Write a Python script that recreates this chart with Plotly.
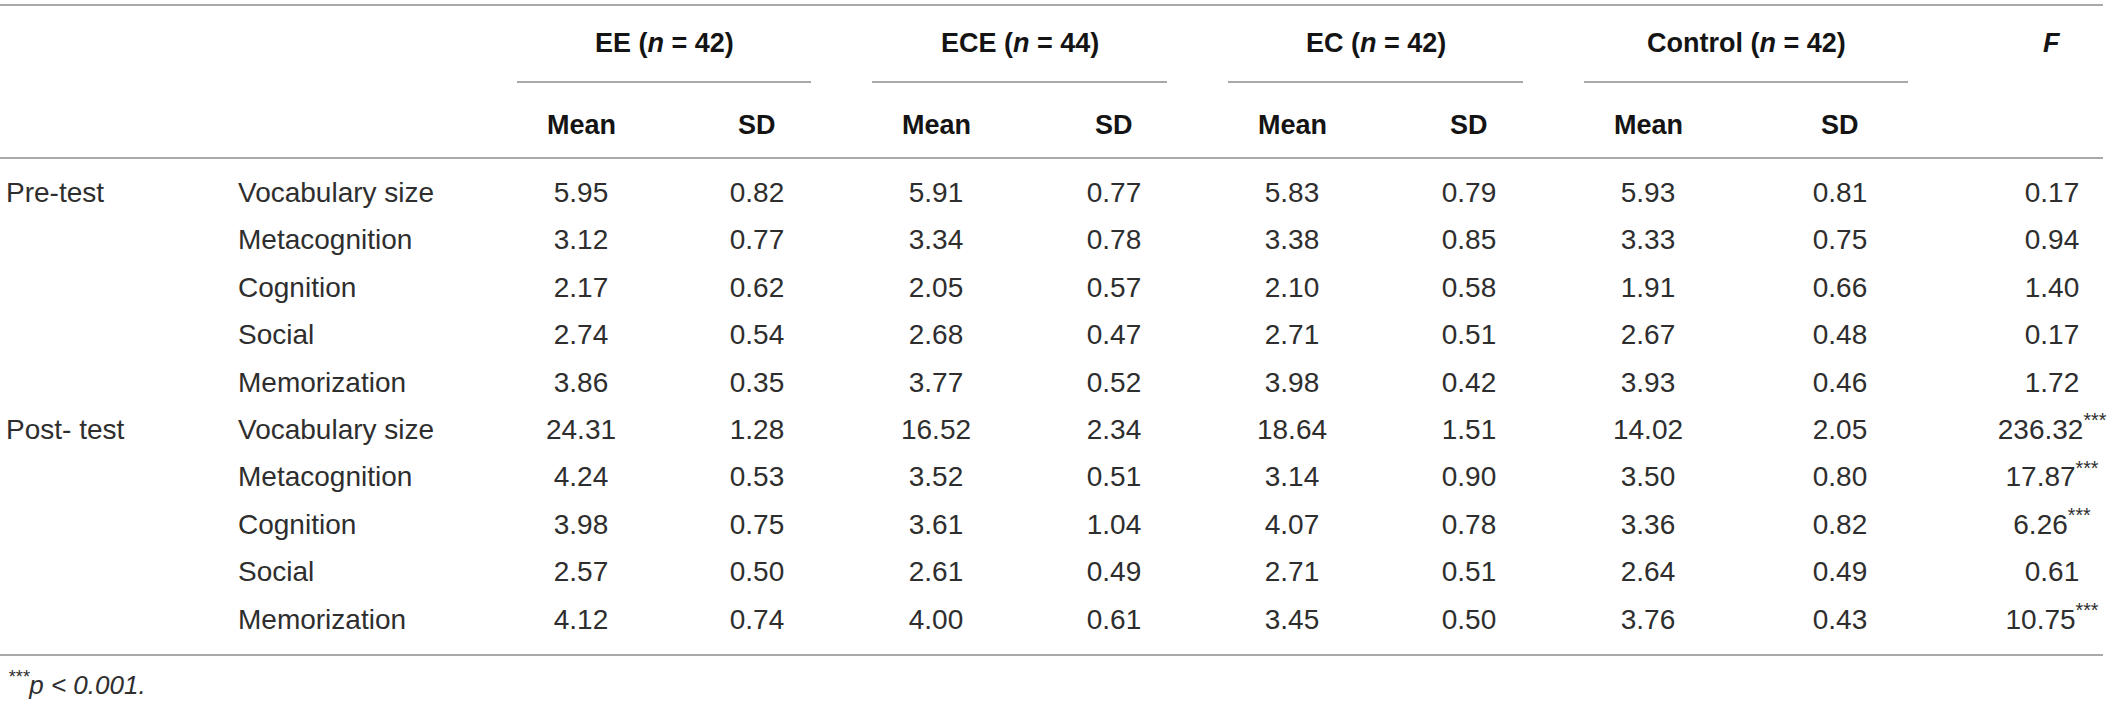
import plotly.graph_objects as go

# Table values
groups = ["EE", "ECE", "EC", "Control"]
group_n = [42, 44, 42, 42]
phases = ["Pre-test", "Post- test"]
measures = ["Vocabulary size", "Metacognition", "Cognition", "Social", "Memorization"]

ee_mean = [5.95, 3.12, 2.17, 2.74, 3.86, 24.31, 4.24, 3.98, 2.57, 4.12]
ee_sd = [0.82, 0.77, 0.62, 0.54, 0.35, 1.28, 0.53, 0.75, 0.50, 0.74]
ece_mean = [5.91, 3.34, 2.05, 2.68, 3.77, 16.52, 3.52, 3.61, 2.61, 4.00]
ece_sd = [0.77, 0.78, 0.57, 0.47, 0.52, 2.34, 0.51, 1.04, 0.49, 0.61]
ec_mean = [5.83, 3.38, 2.10, 2.71, 3.98, 18.64, 3.14, 4.07, 2.71, 3.45]
ec_sd = [0.79, 0.85, 0.58, 0.51, 0.42, 1.51, 0.90, 0.78, 0.51, 0.50]
ctrl_mean = [5.93, 3.33, 1.91, 2.67, 3.93, 14.02, 3.50, 3.36, 2.64, 3.76]
ctrl_sd = [0.81, 0.75, 0.66, 0.48, 0.46, 2.05, 0.80, 0.82, 0.49, 0.43]
f_value = [0.17, 0.94, 1.40, 0.17, 1.72, 236.32, 17.87, 6.26, 0.61, 10.75]
f_sig = [False, False, False, False, False, True, True, True, False, True]

footnote = "<sup>***</sup>p < 0.001."

# Layout (pixel positions)
W, H = 2117, 704
BODY = "Liberation Sans, Arial, Helvetica"
HEAD = "Liberation Sans, Arial, Helvetica"
body_color = "#2e2e2e"
head_color = "#141414"
line_color = "#8c8c8c"
body_size = 28
head_size = 27

col_x = [581, 757, 936, 1114, 1292, 1469, 1648, 1840]
f_x = 2052
under_x = [(517, 811), (872, 1167), (1228, 1523), (1584, 1908)]
row_y0, row_step = 195, 47.4
row_y = [row_y0 + i * row_step for i in range(len(ee_mean))]

fig = go.Figure()

# data cells
columns = [ee_mean, ee_sd, ece_mean, ece_sd, ec_mean, ec_sd, ctrl_mean, ctrl_sd]
for x, vals in zip(col_x, columns):
    fig.add_trace(go.Scatter(
        x=[x] * len(vals), y=row_y, mode="text",
        text=[f"{v:.2f}" for v in vals],
        textposition="middle center",
        textfont=dict(family=BODY, size=body_size, color=body_color),
        hoverinfo="skip", showlegend=False,
    ))

f_text = [f"{v:.2f}" + ("<sup>***</sup>" if s else "") for v, s in zip(f_value, f_sig)]
fig.add_trace(go.Scatter(
    x=[f_x] * len(f_value), y=row_y, mode="text", text=f_text,
    textposition="middle center",
    textfont=dict(family=BODY, size=body_size, color=body_color),
    hoverinfo="skip", showlegend=False,
))

# row labels
labels = measures * len(phases)
fig.add_trace(go.Scatter(
    x=[238] * len(labels), y=row_y, mode="text", text=labels,
    textposition="middle right",
    textfont=dict(family=BODY, size=body_size, color=body_color),
    hoverinfo="skip", showlegend=False,
))
fig.add_trace(go.Scatter(
    x=[6] * len(phases), y=[row_y[0], row_y[len(measures)]], mode="text", text=phases,
    textposition="middle right",
    textfont=dict(family=BODY, size=body_size, color=body_color),
    hoverinfo="skip", showlegend=False,
))

# header row 1
for (x0, x1), g, n in zip(under_x, groups, group_n):
    fig.add_annotation(x=(x0 + x1) / 2, y=43, text=f"<b>{g} (<i>n</i> = {n})</b>",
                       showarrow=False, xanchor="center", yanchor="middle",
                       font=dict(family=HEAD, size=head_size, color=head_color))
    fig.add_shape(type="line", x0=x0, x1=x1, y0=82, y1=82,
                  line=dict(color=line_color, width=1.5))
fig.add_annotation(x=f_x, y=43, text="<b><i>F</i></b>", showarrow=False,
                   xanchor="center", yanchor="middle",
                   font=dict(family=HEAD, size=head_size, color=head_color))

# header row 2
for i, x in enumerate(col_x):
    fig.add_annotation(x=x, y=125, text="<b>Mean</b>" if i % 2 == 0 else "<b>SD</b>",
                       showarrow=False, xanchor="center", yanchor="middle",
                       font=dict(family=HEAD, size=head_size, color=head_color))

# horizontal rules
for y in [5, 158, 655]:
    fig.add_shape(type="line", x0=0, x1=2103, y0=y, y1=y,
                  line=dict(color=line_color, width=1.5))

fig.add_annotation(x=6, y=683, text=f"<i>{footnote}</i>", showarrow=False,
                   xanchor="left", yanchor="middle",
                   font=dict(family=BODY, size=26, color=body_color))

fig.update_layout(
    width=W, height=H,
    margin=dict(l=0, r=0, t=0, b=0),
    paper_bgcolor="white", plot_bgcolor="white",
    xaxis=dict(range=[0, W], visible=False, fixedrange=True),
    yaxis=dict(range=[H, 0], visible=False, fixedrange=True),
)

fig.write_html("out.html", config={"displayModeBar": False},
               post_script="document.body.style.margin='0';document.body.style.overflow='hidden';")
